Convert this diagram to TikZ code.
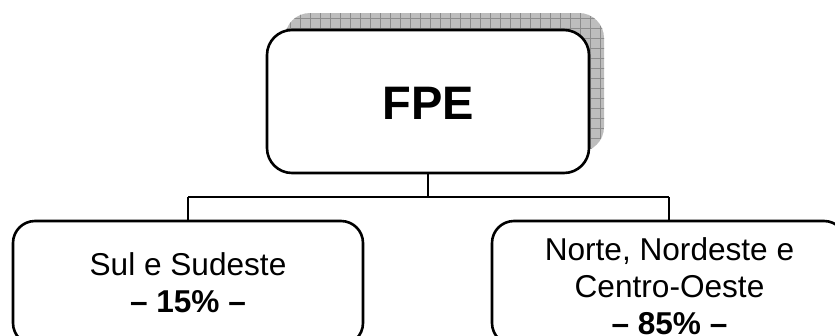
\documentclass[tikz,border=0pt]{standalone}
\usepackage{fontspec}
\setmainfont{Liberation Sans}
\begin{document}
\begin{tikzpicture}[x=1pt,y=-1pt,
  box/.style={draw=black, line width=2.6pt, rounded corners=#1, fill=white, inner sep=0pt},
  box/.default=22pt,
  label/.style={inner sep=0pt, align=center, font=\fontsize{31.6}{37}\selectfont},
  conn/.style={draw=black, line width=1.3pt},
  shadowfill/.style={fill=black!26},
  gridline/.style={draw=black!45, line width=0.5pt}]
\useasboundingbox (0,0) rectangle (835,335);
\clip (0,0) rectangle (835,335);
% shadow with grid pattern
\begin{scope}
  \path[shadowfill, rounded corners=25pt] (285,13) rectangle (604,152);
  \clip[rounded corners=25pt] (285,13) rectangle (604,152);
  \foreach \gx in {290,300,...,600} {\draw[gridline] (\gx,10) -- (\gx,155);}
  \foreach \gy in {18,28,...,150} {\draw[gridline] (280,\gy) -- (610,\gy);}
\end{scope}
% top box
\node[box=25pt, minimum width=322pt, minimum height=143pt] (fpe) at (428,101.5) {};
\node[inner sep=0pt, font=\bfseries\fontsize{47}{50}\selectfont] (fpetext) at (428,103.5) {FPE};
% lower boxes
\node[box, minimum width=350pt, minimum height=124pt] (sul) at (188,283) {};
\node[label] (sultext) at (188,282.5) {Sul e Sudeste\\\textbf{– 15\% –}};
\node[box, minimum width=354pt, minimum height=124pt] (norte) at (669,283) {};
\node[label] (nortetext) at (669.5,286.5) {Norte, Nordeste e\\Centro-Oeste\\\textbf{– 85\% –}};
% connectors
\coordinate (j) at (fpe.south |- 0,197);
\draw[conn] (fpe.south) -- (j);
\draw[conn] (sul.north |- j) -- (norte.north |- j);
\draw[conn] (sul.north |- j) -- (sul.north);
\draw[conn] (norte.north |- j) -- (norte.north);
\end{tikzpicture}
\end{document}
